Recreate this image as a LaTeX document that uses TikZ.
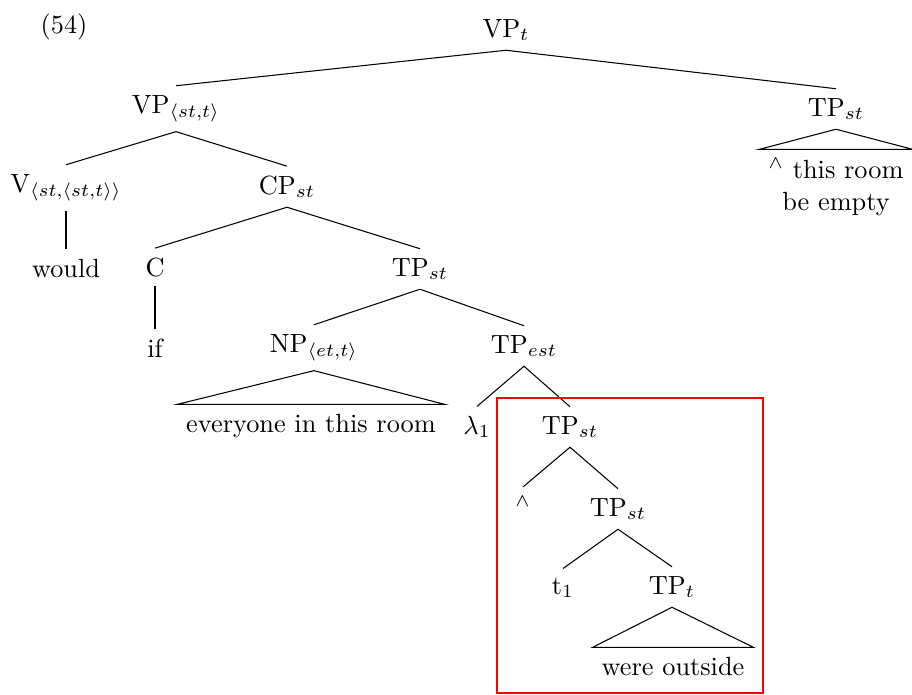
\documentclass[tikz,border=0pt]{standalone}
\usepackage{amsmath,amssymb}
\usepackage{tikz}
\usetikzlibrary{positioning}

\begin{document}
\begin{tikzpicture}[x=0.38pt,y=-0.38pt,
  lbl/.style={anchor=base},
  leaf/.style={anchor=base,align=center},
  redbox/.style={draw=red}]
 \useasboundingbox (0,0) rectangle (912,694);
 % example number
 \node[lbl] (ex) at (64,33) {(54)};
 % root and first level
 \node[lbl] (vpt) at (506,37) {VP$_t$};
 \node[lbl] (vpa) at (176,113) {VP$_{\langle st,t\rangle}$};
 \node[lbl] (tpr) at (836,116) {TP$_{st}$};
 \node[leaf] (tprl) at (836,210) {$^\wedge$ this room\\be empty};
 \draw (vpt.south) -- (vpa.north);
 \draw (vpt.south) -- (tpr.north);
 \draw (tpr.south) -- (tprl.north west) -- (tprl.north east) -- cycle;
 % would + if-clause
 \node[lbl] (v) at (66,192) {V$_{\langle st,\langle st,t\rangle\rangle}$};
 \node[lbl] (cp) at (287,194) {CP$_{st}$};
 \node[lbl] (would) at (66,277) {would};
 \node[lbl] (c) at (155,276) {C};
 \node[lbl] (tpa) at (420,276) {TP$_{st}$};
 \node[lbl] (if) at (155,357) {if};
 \draw (vpa.south) -- (v.north);
 \draw (vpa.south) -- (cp.north);
 \draw (v.south) -- (would.north);
 \draw (cp.south) -- (c.north);
 \draw (cp.south) -- (tpa.north);
 \draw (c.south) -- (if.north);
 % quantifier raising
 \node[lbl] (np) at (314,352) {NP$_{\langle et,t\rangle}$};
 \node[lbl] (tpe) at (524,353) {TP$_{est}$};
 \node[leaf] (npl) at (311,432) {everyone in this room};
 \node[lbl] (lam) at (477,434) {$\lambda_1$};
 \node[lbl] (tpb) at (570,434) {TP$_{st}$};
 \draw (tpa.south) -- (np.north);
 \draw (tpa.south) -- (tpe.north);
 \draw (np.south) -- (npl.north west) -- (npl.north east) -- cycle;
 \draw (tpe.south) -- (lam.north);
 \draw (tpe.south) -- (tpb.north);
 % boxed part
 \node[lbl] (wedge) at (523,516) {$^\wedge$};
 \node[lbl] (tpc) at (618,516) {TP$_{st}$};
 \node[lbl] (tr) at (563,594) {t$_1$};
 \node[lbl] (tpt) at (672,594) {TP$_t$};
 \node[leaf] (tptl) at (673,675) {were outside};
 \draw (tpb.south) -- (wedge.north);
 \draw (tpb.south) -- (tpc.north);
 \draw (tpc.south) -- (tr.north);
 \draw (tpc.south) -- (tpt.north);
 \draw (tpt.south) -- (tptl.north west) -- (tptl.north east) -- cycle;
 \draw[redbox] (497,398) rectangle (763,693);
\end{tikzpicture}
\end{document}
